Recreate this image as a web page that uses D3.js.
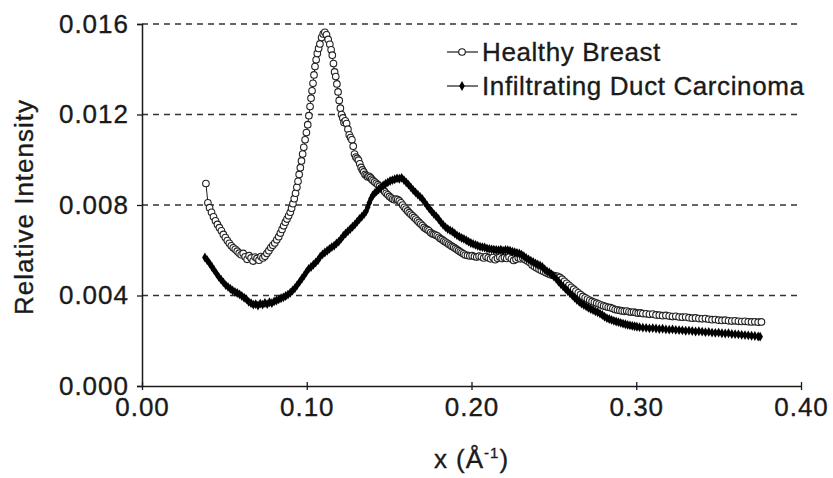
<!DOCTYPE html>
<html>
<head>
<meta charset="utf-8">
<script src="https://cdn.jsdelivr.net/npm/d3@7"></script>
<style>
  html, body { margin: 0; padding: 0; background: #fff; }
  svg { display: block; }
  text { font-family: "Liberation Sans", Arial, Helvetica, sans-serif; fill: #1a1a1a; stroke: #1a1a1a; stroke-width: 0.35px; }
</style>
</head>
<body>
<svg id="chart" width="833" height="478"></svg>
<script>
// ---------- DATA ----------
const seriesNames = ["Healthy Breast", "Infiltrating Duct Carcinoma"];
const xTicks = [0.00, 0.10, 0.20, 0.30, 0.40];
const yTicks = [0.000, 0.004, 0.008, 0.012, 0.016];
const xTitle = "x (Å";
const xTitleSup = "-1";
const yTitle = "Relative Intensity";

// Healthy Breast: [x, relative intensity]
const healthy = [
[0.0388,0.00895],[0.0400,0.00810],[0.0410,0.00788],[0.0422,0.00768],[0.0434,0.00748],[0.0446,0.00730],
[0.0458,0.00714],[0.0470,0.00700],[0.0482,0.00686],[0.0494,0.00670],[0.0506,0.00656],[0.0518,0.00643],
[0.0530,0.00631],[0.0542,0.00620],[0.0554,0.00611],[0.0566,0.00604],[0.0578,0.00596],[0.0590,0.00587],
[0.0602,0.00580],[0.0614,0.00586],[0.0626,0.00571],[0.0638,0.00560],[0.0650,0.00576],[0.0662,0.00566],
[0.0674,0.00552],[0.0686,0.00570],[0.0698,0.00564],[0.0710,0.00556],[0.0722,0.00572],[0.0734,0.00566],
[0.0746,0.00574],[0.0758,0.00586],[0.0770,0.00598],[0.0782,0.00612],[0.0794,0.00622],[0.0806,0.00632],
[0.0818,0.00646],[0.0830,0.00660],[0.0840,0.00676],[0.0850,0.00692],[0.0860,0.00708],[0.0870,0.00724],
[0.0880,0.00738],[0.0890,0.00752],[0.0900,0.00768],[0.0908,0.00786],[0.0916,0.00806],[0.0924,0.00828],
[0.0932,0.00852],[0.0940,0.00878],[0.0947,0.00905],[0.0954,0.00935],[0.0961,0.00965],[0.0968,0.00995],
[0.0975,0.01025],[0.0982,0.01055],[0.0990,0.01088],[0.0998,0.01120],[0.1006,0.01155],[0.1013,0.01195],
[0.1020,0.01235],[0.1026,0.01272],[0.1032,0.01305],[0.1038,0.01338],[0.1044,0.01375],[0.1050,0.01412],
[0.1057,0.01442],[0.1064,0.01470],[0.1072,0.01492],[0.1080,0.01512],[0.1090,0.01540],[0.1100,0.01556],
[0.1110,0.01563],[0.1120,0.01552],[0.1130,0.01532],[0.1140,0.01510],[0.1148,0.01486],[0.1155,0.01462],
[0.1162,0.01425],[0.1169,0.01388],[0.1176,0.01368],[0.1183,0.01335],[0.1190,0.01300],[0.1197,0.01262],
[0.1204,0.01228],[0.1211,0.01200],[0.1219,0.01185],[0.1226,0.01165],[0.1234,0.01172],[0.1242,0.01160],
[0.1250,0.01135],[0.1258,0.01110],[0.1266,0.01098],[0.1274,0.01088],[0.1282,0.01060],[0.1290,0.01025],
[0.1298,0.01012],[0.1306,0.01006],[0.1314,0.00998],[0.1322,0.00982],[0.1330,0.00966],[0.1338,0.00955],
[0.1346,0.00946],[0.1354,0.00935],[0.1362,0.00930],[0.1370,0.00924],[0.1378,0.00927],[0.1386,0.00922],
[0.1394,0.00914],[0.1402,0.00908],[0.1412,0.00902],[0.1422,0.00896],[0.1432,0.00890],[0.1442,0.00883],
[0.1452,0.00876],[0.1462,0.00868],[0.1472,0.00860],[0.1482,0.00852],[0.1492,0.00845],[0.1502,0.00838],
[0.1512,0.00832],[0.1522,0.00826],[0.1532,0.00823],[0.1542,0.00826],[0.1552,0.00824],[0.1562,0.00818],
[0.1572,0.00810],[0.1582,0.00800],[0.1592,0.00790],[0.1602,0.00782],[0.1612,0.00774],[0.1622,0.00766],
[0.1632,0.00759],[0.1642,0.00752],[0.1652,0.00745],[0.1662,0.00738],[0.1672,0.00730],[0.1682,0.00723],
[0.1692,0.00716],[0.1702,0.00709],[0.1712,0.00701],[0.1722,0.00695],[0.1732,0.00691],[0.1742,0.00686],
[0.1752,0.00678],[0.1762,0.00673],[0.1772,0.00670],[0.1782,0.00667],[0.1792,0.00664],[0.1802,0.00657],
[0.1812,0.00651],[0.1822,0.00647],[0.1832,0.00641],[0.1842,0.00636],[0.1852,0.00632],[0.1862,0.00627],
[0.1872,0.00622],[0.1882,0.00617],[0.1892,0.00613],[0.1902,0.00608],[0.1912,0.00603],[0.1922,0.00598],
[0.1932,0.00593],[0.1942,0.00589],[0.1952,0.00584],[0.1962,0.00579],[0.1976,0.00577],[0.1990,0.00575],
[0.2004,0.00576],[0.2018,0.00572],[0.2032,0.00570],[0.2046,0.00574],[0.2060,0.00571],
[0.2074,0.00566],[0.2088,0.00572],[0.2102,0.00567],[0.2116,0.00562],[0.2130,0.00568],[0.2144,0.00558],
[0.2158,0.00565],[0.2172,0.00570],[0.2186,0.00563],[0.2200,0.00568],[0.2214,0.00564],[0.2228,0.00570],
[0.2242,0.00562],[0.2256,0.00555],[0.2270,0.00560],[0.2284,0.00567],[0.2298,0.00562],[0.2312,0.00566],
[0.2326,0.00558],[0.2340,0.00552],[0.2354,0.00546],[0.2368,0.00535],[0.2382,0.00528],[0.2396,0.00522],
[0.2410,0.00516],[0.2424,0.00511],[0.2438,0.00506],[0.2452,0.00501],[0.2466,0.00496],[0.2480,0.00492],
[0.2494,0.00489],[0.2508,0.00487],[0.2522,0.00485],[0.2536,0.00480],[0.2550,0.00472],[0.2564,0.00463],
[0.2578,0.00454],[0.2592,0.00445],[0.2606,0.00436],[0.2620,0.00428],[0.2634,0.00420],[0.2648,0.00412],
[0.2662,0.00404],[0.2676,0.00396],[0.2690,0.00390],[0.2704,0.00384],[0.2718,0.00379],[0.2732,0.00374],
[0.2746,0.00370],[0.2760,0.00366],[0.2774,0.00362],[0.2788,0.00358],[0.2802,0.00354],[0.2816,0.00351],
[0.2830,0.00348],[0.2844,0.00346],[0.2858,0.00342],[0.2872,0.00338],[0.2886,0.00336],[0.2900,0.00334],
[0.2914,0.00332],[0.2928,0.00330],[0.2942,0.00331],[0.2956,0.00328],[0.2970,0.00326],[0.2984,0.00327],
[0.2998,0.00324],[0.3012,0.00322],[0.3026,0.00323],[0.3040,0.00320],[0.3060,0.00319],[0.3080,0.00317],
[0.3100,0.00318],[0.3120,0.00314],[0.3140,0.00313],[0.3160,0.00311],[0.3180,0.00312],[0.3200,0.00309],
[0.3220,0.00307],[0.3240,0.00308],[0.3260,0.00305],[0.3280,0.00304],[0.3300,0.00305],[0.3320,0.00302],
[0.3340,0.00300],[0.3360,0.00301],[0.3380,0.00298],[0.3400,0.00297],[0.3420,0.00298],[0.3440,0.00295],
[0.3460,0.00293],[0.3480,0.00294],[0.3500,0.00291],[0.3520,0.00290],[0.3540,0.00291],[0.3560,0.00288],
[0.3580,0.00287],[0.3600,0.00288],[0.3620,0.00286],[0.3640,0.00285],[0.3660,0.00286],[0.3680,0.00284],
[0.3700,0.00283],[0.3720,0.00284],[0.3740,0.00282],[0.3760,0.00283]
];

// Infiltrating Duct Carcinoma: [x, relative intensity]
const carcinoma = [
[0.0382,0.00568],[0.0396,0.00556],[0.0410,0.00542],[0.0424,0.00527],[0.0438,0.00512],[0.0452,0.00497],
[0.0466,0.00482],[0.0480,0.00470],[0.0494,0.00458],[0.0508,0.00446],[0.0522,0.00438],[0.0536,0.00430],
[0.0550,0.00422],[0.0564,0.00416],[0.0578,0.00411],[0.0592,0.00405],[0.0606,0.00398],[0.0620,0.00390],
[0.0634,0.00383],[0.0648,0.00372],[0.0662,0.00366],[0.0676,0.00360],[0.0690,0.00362],[0.0704,0.00356],
[0.0718,0.00364],[0.0732,0.00360],[0.0746,0.00367],[0.0760,0.00362],[0.0774,0.00370],[0.0788,0.00366],
[0.0802,0.00374],[0.0816,0.00378],[0.0830,0.00383],[0.0844,0.00388],[0.0858,0.00392],[0.0872,0.00398],
[0.0886,0.00404],[0.0900,0.00412],[0.0914,0.00422],[0.0928,0.00432],[0.0942,0.00446],[0.0956,0.00460],
[0.0970,0.00474],[0.0984,0.00488],[0.0998,0.00504],[0.1012,0.00518],[0.1026,0.00526],[0.1040,0.00536],
[0.1054,0.00546],[0.1068,0.00556],[0.1082,0.00572],[0.1096,0.00582],[0.1110,0.00590],[0.1124,0.00598],
[0.1138,0.00606],[0.1152,0.00614],[0.1166,0.00620],[0.1180,0.00630],[0.1194,0.00638],[0.1208,0.00650],
[0.1222,0.00664],[0.1236,0.00674],[0.1250,0.00684],[0.1264,0.00694],[0.1278,0.00704],[0.1292,0.00714],
[0.1306,0.00726],[0.1320,0.00738],[0.1334,0.00748],[0.1348,0.00760],[0.1360,0.00772],[0.1370,0.00790],
[0.1380,0.00810],[0.1390,0.00828],[0.1400,0.00842],[0.1412,0.00852],[0.1424,0.00860],[0.1436,0.00868],
[0.1450,0.00876],[0.1464,0.00886],[0.1478,0.00894],[0.1492,0.00900],[0.1506,0.00906],[0.1520,0.00910],
[0.1534,0.00914],[0.1548,0.00918],[0.1562,0.00916],[0.1576,0.00920],[0.1590,0.00910],[0.1604,0.00900],
[0.1618,0.00890],[0.1632,0.00878],[0.1646,0.00866],[0.1660,0.00856],[0.1674,0.00846],[0.1688,0.00836],
[0.1702,0.00826],[0.1716,0.00812],[0.1730,0.00798],[0.1744,0.00784],[0.1758,0.00772],[0.1772,0.00760],
[0.1786,0.00750],[0.1800,0.00738],[0.1814,0.00724],[0.1828,0.00712],[0.1842,0.00702],[0.1856,0.00694],
[0.1870,0.00688],[0.1884,0.00682],[0.1898,0.00674],[0.1912,0.00666],[0.1926,0.00660],[0.1940,0.00654],
[0.1954,0.00650],[0.1968,0.00644],[0.1982,0.00638],[0.1996,0.00632],[0.2010,0.00628],[0.2024,0.00624],
[0.2038,0.00620],[0.2052,0.00616],[0.2066,0.00614],[0.2080,0.00612],[0.2094,0.00608],[0.2108,0.00606],
[0.2122,0.00604],[0.2136,0.00602],[0.2150,0.00601],[0.2164,0.00600],[0.2178,0.00602],[0.2192,0.00598],
[0.2206,0.00601],[0.2220,0.00600],[0.2234,0.00598],[0.2248,0.00594],[0.2262,0.00591],[0.2276,0.00588],
[0.2290,0.00586],[0.2304,0.00580],[0.2318,0.00574],[0.2332,0.00566],[0.2346,0.00560],[0.2360,0.00554],
[0.2374,0.00548],[0.2388,0.00542],[0.2402,0.00537],[0.2416,0.00533],[0.2430,0.00526],[0.2444,0.00516],
[0.2458,0.00508],[0.2472,0.00502],[0.2486,0.00494],[0.2500,0.00484],[0.2514,0.00474],[0.2528,0.00462],
[0.2542,0.00450],[0.2556,0.00440],[0.2570,0.00430],[0.2584,0.00420],[0.2598,0.00410],[0.2612,0.00400],
[0.2626,0.00390],[0.2640,0.00380],[0.2654,0.00372],[0.2668,0.00364],[0.2682,0.00358],[0.2696,0.00352],
[0.2710,0.00346],[0.2724,0.00340],[0.2738,0.00336],[0.2752,0.00330],[0.2766,0.00326],[0.2780,0.00320],
[0.2794,0.00314],[0.2808,0.00306],[0.2822,0.00300],[0.2836,0.00296],[0.2850,0.00292],[0.2864,0.00288],
[0.2878,0.00285],[0.2892,0.00282],[0.2906,0.00279],[0.2920,0.00276],[0.2934,0.00273],[0.2948,0.00270],
[0.2962,0.00268],[0.2976,0.00266],[0.2990,0.00264],[0.3004,0.00262],[0.3020,0.00260],[0.3040,0.00258],
[0.3060,0.00257],[0.3080,0.00255],[0.3100,0.00256],[0.3120,0.00254],[0.3140,0.00252],[0.3160,0.00253],
[0.3180,0.00250],[0.3200,0.00249],[0.3220,0.00250],[0.3240,0.00248],[0.3260,0.00247],[0.3280,0.00246],
[0.3300,0.00244],[0.3320,0.00245],[0.3340,0.00243],[0.3360,0.00241],[0.3380,0.00242],[0.3400,0.00240],
[0.3420,0.00238],[0.3440,0.00239],[0.3460,0.00236],[0.3480,0.00235],[0.3500,0.00236],[0.3520,0.00233],
[0.3540,0.00232],[0.3560,0.00233],[0.3580,0.00230],[0.3600,0.00229],[0.3620,0.00228],[0.3640,0.00226],
[0.3660,0.00225],[0.3680,0.00224],[0.3700,0.00222],[0.3720,0.00221],[0.3740,0.00219],[0.3752,0.00218]
];

// ---------- CHART ----------
const svg = d3.select("#chart");
const ink = "#1a1a1a";
const fontSize = 26;
const ls = "1px";

const x = d3.scaleLinear().domain([0, 0.4]).range([142, 801]);
const y = d3.scaleLinear().domain([0, 0.016]).range([386, 24]);

// gridlines
svg.append("g").selectAll("line")
  .data(yTicks.filter(d => d > 0))
  .join("line")
  .attr("x1", x(0)).attr("x2", x(0.4))
  .attr("y1", d => y(d)).attr("y2", d => y(d))
  .attr("stroke", "#333").attr("stroke-width", 1.3)
  .attr("stroke-dasharray", "6,5");

// y axis
const yAxis = d3.axisLeft(y).tickValues(yTicks).tickFormat(d3.format(".3f"))
  .tickSize(5).tickPadding(8);
const gy = svg.append("g").attr("transform", `translate(${x(0)},0)`).call(yAxis);
gy.select(".domain").attr("stroke", ink).attr("stroke-width", 1.5);
gy.selectAll(".tick line").attr("stroke", ink).attr("stroke-width", 1.3);
gy.selectAll(".tick text").style("font-size", fontSize + "px").style("letter-spacing", ls)
  .style("font-family", "'Liberation Sans', Arial, sans-serif").attr("fill", ink)
  .attr("stroke", ink).attr("stroke-width", 0.35);

// x axis
const xAxis = d3.axisBottom(x).tickValues(xTicks).tickFormat(d3.format(".2f"))
  .tickSizeInner(4).tickSizeOuter(0).tickPadding(8);
const gx = svg.append("g").attr("transform", `translate(0,${y(0)})`).call(xAxis);
gx.select(".domain").attr("stroke", ink).attr("stroke-width", 1.5);
gx.selectAll(".tick line").attr("stroke", ink).attr("stroke-width", 1.3).attr("y1", -4);
gx.selectAll(".tick text").style("font-size", fontSize + "px").style("letter-spacing", ls)
  .style("font-family", "'Liberation Sans', Arial, sans-serif").attr("fill", ink)
  .attr("stroke", ink).attr("stroke-width", 0.35);

// axis titles
const xt = svg.append("text")
  .attr("x", x(0.2)).attr("y", 468)
  .attr("text-anchor", "middle")
  .style("font-size", fontSize + "px").style("letter-spacing", ls);
xt.append("tspan").text(xTitle);
xt.append("tspan").attr("dy", -10).style("font-size", "15px").text(xTitleSup);
xt.append("tspan").attr("dy", 10).text(")");

svg.append("text")
  .attr("transform", `translate(33,${(y(0) + y(0.016)) / 2 + 2}) rotate(-90)`)
  .attr("text-anchor", "middle")
  .style("font-size", fontSize + "px").style("letter-spacing", ls)
  .text(yTitle);

// series
const line = d3.line().x(d => x(d[0])).y(d => y(d[1]));
const diamond = d3.symbol().type(d3.symbolDiamond).size(28);

// healthy (open circles)
const gH = svg.append("g");
gH.append("path").datum(healthy).attr("d", line)
  .attr("fill", "none").attr("stroke", ink).attr("stroke-width", 1);
gH.selectAll("circle").data(healthy).join("circle")
  .attr("cx", d => x(d[0])).attr("cy", d => y(d[1])).attr("r", 3.3)
  .attr("fill", "#fff").attr("stroke", "#222").attr("stroke-width", 1.1);

// carcinoma (filled diamonds)
const gC = svg.append("g");
gC.append("path").datum(carcinoma).attr("d", line)
  .attr("fill", "none").attr("stroke", "#000").attr("stroke-width", 2.5);
gC.selectAll("path.pt").data(carcinoma).join("path").attr("class", "pt")
  .attr("transform", d => `translate(${x(d[0])},${y(d[1])})`)
  .attr("d", diamond).attr("fill", "#000");

// legend
const legend = svg.append("g");
const lg = [{name: seriesNames[0], yy: 52, kind: "circle"}, {name: seriesNames[1], yy: 86, kind: "diamond"}];
lg.forEach(item => {
  legend.append("line").attr("x1", 447).attr("x2", 478).attr("y1", item.yy).attr("y2", item.yy)
    .attr("stroke", ink).attr("stroke-width", 1.2);
  if (item.kind === "circle") {
    legend.append("circle").attr("cx", 462).attr("cy", item.yy).attr("r", 3.3)
      .attr("fill", "#fff").attr("stroke", ink).attr("stroke-width", 1.1);
  } else {
    legend.append("path").attr("transform", `translate(462,${item.yy})`).attr("d", diamond).attr("fill", "#000");
  }
  legend.append("text").attr("x", 482).attr("y", item.yy).attr("dy", "0.35em")
    .style("font-size", "26px").style("letter-spacing", "0.6px").text(item.name);
});
</script>
</body>
</html>
